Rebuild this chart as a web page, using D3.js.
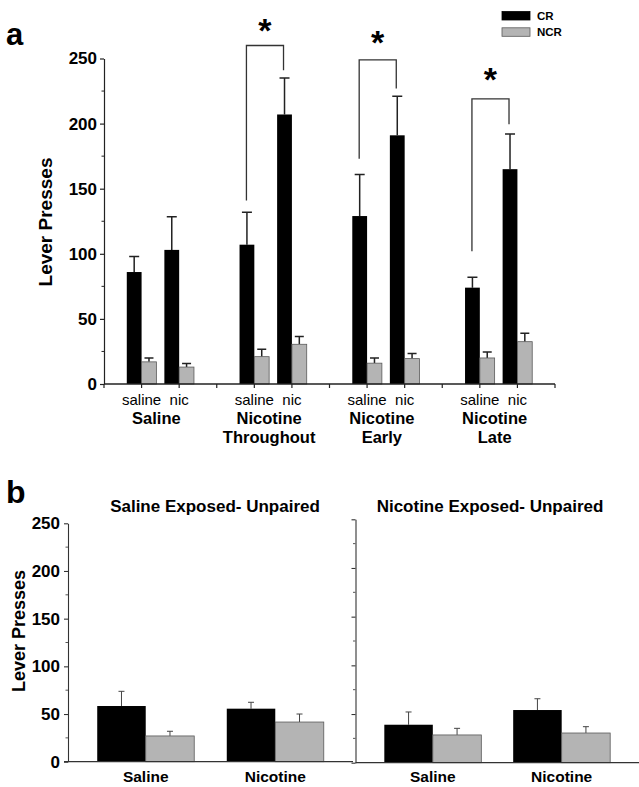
<!DOCTYPE html>
<html>
<head>
<meta charset="utf-8">
<script src="https://cdn.jsdelivr.net/npm/d3@7"></script>
<style>
  body { margin: 0; background: #fff; }
  svg text { font-family: "Liberation Sans", Arial, sans-serif; }
</style>
</head>
<body>
<svg id="chart" width="639" height="787"></svg>
<script>
// ---- data: panel a (paired) ----
var groupsA = ['Saline', 'Nicotine Throughout', 'Nicotine Early', 'Nicotine Late']
var groupLines = [['Saline'], ['Nicotine', 'Throughout'], ['Nicotine', 'Early'], ['Nicotine', 'Late']]
var subA = ['saline', 'nic']
var crMean = [86, 103, 107, 207, 129, 191, 74, 165]
var crSem = [12, 25.5, 25, 28, 32, 30, 8, 27]
var ncrMean = [17, 13, 21, 30.5, 16, 19.5, 20, 32.5]
var ncrSem = [3, 2.8, 5.6, 6, 4, 4, 4.6, 6.4]
var yTicks = [0, 50, 100, 150, 200, 250]
var yMinor = [25, 75, 125, 175, 225]

// significance brackets (group index, top, left leg end, right leg end, star)
var sigGroup = [1, 2, 3]
var sigTop = [260, 249, 219]
var sigLeft = [141, 173, 102]
var sigRight = [241, 227, 199.5]
var sigStar = [275, 265.5, 237]

// ---- data: panel b (unpaired) ----
var groupsB = ['Saline', 'Nicotine']
var panelsB = ['Saline Exposed- Unpaired', 'Nicotine Exposed- Unpaired']
var salExpCR = [58.4, 55.6], salExpCRsem = [15.4, 6.7]
var salExpNCR = [27, 41.6], salExpNCRsem = [4.9, 8.4]
var nicExpCR = [39, 54.1], nicExpCRsem = [13.1, 11.6]
var nicExpNCR = [28.5, 30.5], nicExpNCRsem = [6.8, 6.5]

var GRAY = '#b4b4b4', GRAY_EDGE = '#5a5a5a'

var svg = d3.select('#chart')

// ================= panel a =================
var ya = d3.scaleLinear().domain([0, 250]).range([384, 58.5])
var x0 = d3.scaleBand().domain(groupsA).range([104, 555])
var x1 = d3.scalePoint().domain(subA).range([0, x0.bandwidth()]).padding(1)
var bwA = 14.8

var ga = svg.append('g')

// y axis
ga.append('g')
    .attr('transform', 'translate(104,0)')
    .call(d3.axisLeft(ya).tickValues(yTicks).tickSize(4).tickSizeOuter(0).tickPadding(3))
    .call(g => g.selectAll('text').style('font-size', '17px').style('font-weight', 'bold').attr('fill', '#000'))
    .call(g => g.selectAll('path, line').attr('stroke', '#222').attr('stroke-width', 1.2))
ga.append('g')
    .attr('transform', 'translate(104,0)')
    .selectAll('line').data(yMinor).enter().append('line')
    .attr('x1', -2.5).attr('x2', 0)
    .attr('y1', d => ya(d)).attr('y2', d => ya(d))
    .attr('stroke', '#222')

// flat list of bars
var barsA = []
groupsA.forEach((g, gi) => {
    subA.forEach((s, si) => {
        var i = gi * 2 + si
        barsA.push({ g: g, s: s, cr: crMean[i], crE: crSem[i], ncr: ncrMean[i], ncrE: ncrSem[i] })
    })
})

var cx = d => x0(d.g) + x1(d.s)

// error bars first (behind bars)
ga.selectAll('.errCR').data(barsA).enter().append('path')
    .attr('d', d => {
        var x = cx(d) - bwA / 2, t = ya(d.cr + d.crE)
        return `M${x},${ya(d.cr)}V${t}M${x - 5},${t}H${x + 5}`
    })
    .attr('stroke', '#222').attr('stroke-width', 1.5).attr('fill', 'none')
ga.selectAll('.errNCR').data(barsA).enter().append('path')
    .attr('d', d => {
        var x = cx(d) + bwA / 2, t = ya(d.ncr + d.ncrE)
        return `M${x},${ya(d.ncr)}V${t}M${x - 4.5},${t}H${x + 4.5}`
    })
    .attr('stroke', '#222').attr('stroke-width', 1.5).attr('fill', 'none')

ga.selectAll('.barCR').data(barsA).enter().append('rect')
    .attr('x', d => cx(d) - bwA)
    .attr('width', bwA)
    .attr('y', d => ya(d.cr))
    .attr('height', d => ya(0) - ya(d.cr))
    .attr('fill', '#000')
ga.selectAll('.barNCR').data(barsA).enter().append('rect')
    .attr('x', d => cx(d))
    .attr('width', bwA)
    .attr('y', d => ya(d.ncr))
    .attr('height', d => ya(0) - ya(d.ncr))
    .attr('fill', GRAY).attr('stroke', GRAY_EDGE).attr('stroke-width', 0.8)

// x axis
ga.append('line').attr('x1', 104).attr('x2', 555).attr('y1', ya(0)).attr('y2', ya(0))
    .attr('stroke', '#222').attr('stroke-width', 1.3)
var xTickPos = groupsA.map(g => x0(g)).concat([x0.range()[1]]).concat(barsA.map(cx))
ga.selectAll('.xt').data(xTickPos).enter().append('line')
    .attr('x1', d => d).attr('x2', d => d)
    .attr('y1', ya(0)).attr('y2', ya(0) + 4)
    .attr('stroke', '#222').attr('stroke-width', 1.2)

// sub labels
ga.selectAll('.sub').data(barsA).enter().append('text')
    .attr('x', cx).attr('y', 405)
    .attr('text-anchor', 'middle')
    .style('font-size', '15px')
    .text(d => d.s)

// group labels
groupsA.forEach((g, gi) => {
    groupLines[gi].forEach((ln, li) => {
        ga.append('text')
            .attr('x', x0(g) + x0.bandwidth() / 2 - 4)
            .attr('y', 424 + li * 18.5)
            .attr('text-anchor', 'middle')
            .style('font-size', '16.5px').style('font-weight', 'bold')
            .text(ln)
    })
})

// significance brackets
sigGroup.forEach((gi, k) => {
    var g = groupsA[gi]
    var xl = x0(g) + x1('saline') - bwA / 2 - 0.5
    var xr = x0(g) + x1('nic') - bwA / 2 - 1
    ga.append('path')
        .attr('d', `M${xl},${ya(sigLeft[k])}V${ya(sigTop[k])}H${xr}V${ya(sigRight[k])}`)
        .attr('stroke', '#333').attr('stroke-width', 1.3).attr('fill', 'none')
    ga.append('text')
        .attr('x', (xl + xr) / 2).attr('y', ya(sigStar[k]) + 16)
        .attr('text-anchor', 'middle')
        .style('font-size', '34px').style('font-weight', 'bold')
        .text('*')
})

// legend
var legend = [{ name: 'CR', fill: '#000', stroke: '#000' }, { name: 'NCR', fill: GRAY, stroke: GRAY_EDGE }]
var lg = ga.selectAll('.lg').data(legend).enter().append('g')
    .attr('transform', (d, i) => `translate(502,${11.5 + i * 16.3})`)
lg.append('rect').attr('width', 28).attr('height', 8.5)
    .attr('fill', d => d.fill).attr('stroke', d => d.stroke).attr('stroke-width', 0.8)
lg.append('text').attr('x', 35).attr('y', 8.5)
    .style('font-size', '11.5px').style('font-weight', 'bold')
    .text(d => d.name)

// axis title + panel letter
ga.append('text')
    .attr('transform', 'translate(52,222) rotate(-90)')
    .attr('text-anchor', 'middle')
    .style('font-size', '19px').style('font-weight', 'bold')
    .text('Lever Presses')
ga.append('text').attr('x', 6).attr('y', 45)
    .style('font-size', '31px').style('font-weight', 'bold')
    .text('a')

// ================= panel b =================
var panelCfg = [
    { left: 68, right: 353, y0: 761.7, y1: 523.3, labels: true, cr: salExpCR, crE: salExpCRsem, ncr: salExpNCR, ncrE: salExpNCRsem },
    { left: 355.5, right: 639, y0: 762.7, y1: 519.3, labels: false, cr: nicExpCR, crE: nicExpCRsem, ncr: nicExpNCR, ncrE: nicExpNCRsem }
]
var bwB = 48.5

panelCfg.forEach((p, pi) => {
    var gb = svg.append('g')
    var yb = d3.scaleLinear().domain([0, 250]).range([p.y0, p.y1])
    var xb = d3.scalePoint().domain(groupsB).range([p.left, p.right]).padding(0.6)

    var ax = d3.axisLeft(yb).tickValues(yTicks).tickSize(4).tickSizeOuter(0).tickPadding(4)
    if (!p.labels) ax.tickFormat('')
    gb.append('g')
        .attr('transform', `translate(${p.left},0)`)
        .call(ax)
        .call(g => g.selectAll('text').style('font-size', '17px').style('font-weight', 'bold').attr('fill', '#000'))
        .call(g => g.selectAll('path, line').attr('stroke', '#333').attr('stroke-width', 1.1))
    gb.append('g')
        .attr('transform', `translate(${p.left},0)`)
        .selectAll('line').data(yMinor).enter().append('line')
        .attr('x1', -2.5).attr('x2', 0)
        .attr('y1', d => yb(d)).attr('y2', d => yb(d))
        .attr('stroke', '#555')

    var rows = groupsB.map((g, i) => ({ g: g, cr: p.cr[i], crE: p.crE[i], ncr: p.ncr[i], ncrE: p.ncrE[i] }))

    gb.selectAll('.eb').data(rows).enter().append('path')
        .attr('d', d => {
            var a = xb(d.g) - bwB / 2, b = xb(d.g) + bwB / 2
            var t1 = yb(d.cr + d.crE), t2 = yb(d.ncr + d.ncrE)
            return `M${a},${yb(d.cr)}V${t1}M${a - 3},${t1}H${a + 3}` +
                `M${b},${yb(d.ncr)}V${t2}M${b - 3},${t2}H${b + 3}`
        })
        .attr('stroke', '#444').attr('stroke-width', 1).attr('fill', 'none')

    gb.selectAll('.bcr').data(rows).enter().append('rect')
        .attr('x', d => xb(d.g) - bwB)
        .attr('width', bwB)
        .attr('y', d => yb(d.cr))
        .attr('height', d => yb(0) - yb(d.cr))
        .attr('fill', '#000')
    gb.selectAll('.bncr').data(rows).enter().append('rect')
        .attr('x', d => xb(d.g))
        .attr('width', bwB)
        .attr('y', d => yb(d.ncr))
        .attr('height', d => yb(0) - yb(d.ncr))
        .attr('fill', GRAY).attr('stroke', GRAY_EDGE).attr('stroke-width', 0.8)

    gb.append('line').attr('x1', p.left - (pi ? 0 : 4)).attr('x2', p.right)
        .attr('y1', yb(0)).attr('y2', yb(0))
        .attr('stroke', '#333').attr('stroke-width', 1.3)

    gb.selectAll('.xl').data(groupsB).enter().append('text')
        .attr('x', d => xb(d)).attr('y', 782)
        .attr('text-anchor', 'middle')
        .style('font-size', '15.5px').style('font-weight', 'bold')
        .text(d => d)

    gb.append('text')
        .attr('x', pi ? 490 : 215).attr('y', 512)
        .attr('text-anchor', 'middle')
        .style('font-size', '17px').style('font-weight', 'bold')
        .text(panelsB[pi])
})

svg.append('text')
    .attr('transform', 'translate(25,631) rotate(-90)')
    .attr('text-anchor', 'middle')
    .style('font-size', '18px').style('font-weight', 'bold')
    .text('Lever Presses')
svg.append('text').attr('x', 6).attr('y', 503)
    .style('font-size', '32px').style('font-weight', 'bold')
    .text('b')
</script>
</body>
</html>
